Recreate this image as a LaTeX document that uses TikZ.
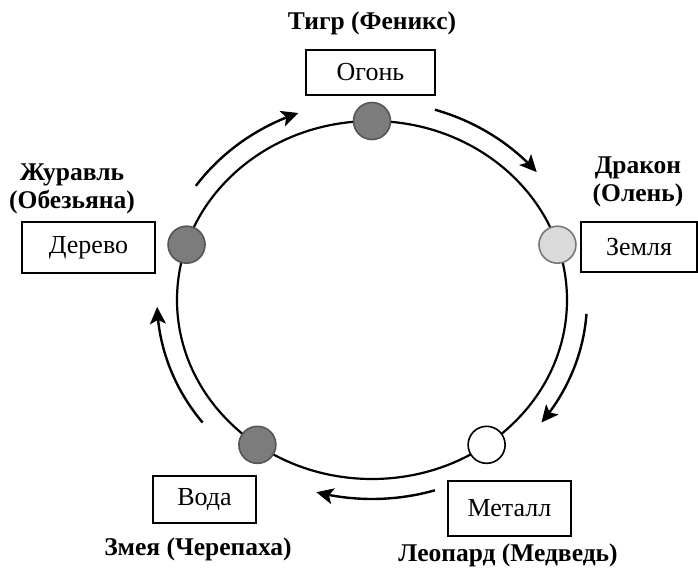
\documentclass[tikz,border=0pt]{standalone}
\usepackage{fontspec}
\setmainfont{Liberation Serif}
\usetikzlibrary{arrows.meta}
\definecolor{dotdark}{RGB}{124,124,124}
\definecolor{dotdarkline}{RGB}{85,85,85}
\definecolor{dotlight}{RGB}{218,218,218}
\definecolor{dotlightline}{RGB}{120,120,120}
\begin{document}
\begin{tikzpicture}[x=1pt,y=-1pt,
  box/.style={draw, line width=2pt, inner sep=0pt, font=\fontsize{26}{30}\selectfont},
  lab/.style={font=\bfseries\fontsize{25.5}{28}\selectfont, align=center, inner sep=0pt},
  dot/.style={circle, minimum size=37pt, inner sep=0pt, line width=1.6pt},
  cyc/.style={line width=2.4pt, -{Stealth[length=17pt,width=16pt,inset=4pt]}}]
\useasboundingbox (0,0) rectangle (698,567);
% main cycle
\draw[line width=2.2pt] (372,300) ellipse [x radius=195pt, y radius=179pt];
% element dots
\node[dot, draw=dotdarkline, fill=dotdark] (dfire) at ({372+195*cos(90)},{300-179*sin(90)}) {};
\node[dot, draw=dotlightline, fill=dotlight] (dearth) at ({372+195*cos(18)},{300-179*sin(18)}) {};
\node[dot, draw=black, fill=white] (dmetal) at ({372+195*cos(-54)},{300-179*sin(-54)}) {};
\node[dot, draw=dotdarkline, fill=dotdark] (dwater) at ({372+195*cos(234)},{300-179*sin(234)}) {};
\node[dot, draw=dotdarkline, fill=dotdark] (dwood) at ({372+195*cos(162)},{300-179*sin(162)}) {};
% cycle arrows
\draw[cyc] plot[domain=145:110, samples=40] ({372+215*cos(\x)},{300-199*sin(\x)});
\draw[cyc] plot[domain=73:40, samples=40] ({372+215*cos(\x)},{300-199*sin(\x)});
\draw[cyc] plot[domain=-4:-38, samples=40] ({372+215*cos(\x)},{300-199*sin(\x)});
\draw[cyc] plot[domain=-73:-105, samples=40] ({372+215*cos(\x)},{300-199*sin(\x)});
\draw[cyc] plot[domain=218:182, samples=40] ({372+215*cos(\x)},{300-199*sin(\x)});
% element boxes
\node[box, minimum width=129pt, minimum height=45pt] (fire) at (370.5,72.5) {Огонь};
\node[box, minimum width=116pt, minimum height=50pt] (earth) at (639,247) {Земля};
\node[box, minimum width=123pt, minimum height=55pt] (metal) at (509.5,508.5) {Металл};
\node[box, minimum width=103pt, minimum height=47pt] (water) at (204.5,499.5) {Вода};
\node[box, minimum width=133pt, minimum height=51pt] (wood) at (88.5,247.5) {Дерево};
% animal labels
\node[lab] (lfire) at (372,23) {Тигр (Феникс)};
\node[lab] (learth) at (638,182) {Дракон\\(Олень)};
\node[lab] (lmetal) at (508,555) {Леопард (Медведь)};
\node[lab] (lwater) at (198,549) {Змея (Черепаха)};
\node[lab] (lwood) at (72,189) {Журавль\\(Обезьяна)};
\end{tikzpicture}
\end{document}
